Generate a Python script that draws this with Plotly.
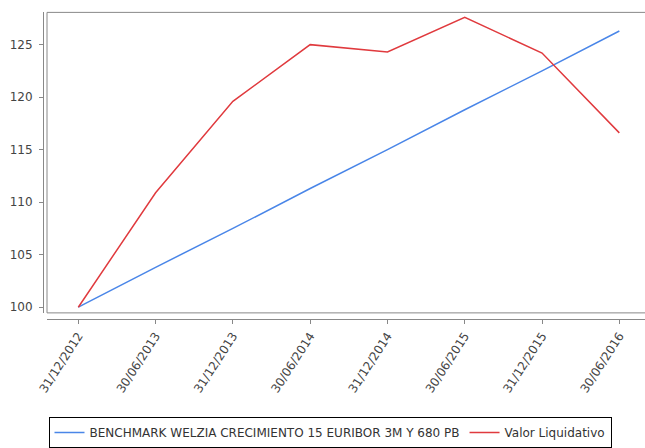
import plotly.graph_objects as go

dates = ["31/12/2012", "30/06/2013", "31/12/2013", "30/06/2014",
         "31/12/2014", "30/06/2015", "31/12/2015", "30/06/2016"]
benchmark = [100.0, 103.8, 107.5, 111.3, 115.0, 118.8, 122.5, 126.3]
valor_liquidativo = [100.0, 110.9, 119.6, 125.0, 124.3, 127.6, 124.2, 116.6]
y_ticks = [100, 105, 110, 115, 120, 125]

W, H = 645, 448


def px(xp):
    return xp / W


def py(yp):
    return 1 - yp / H


x0, x1 = px(47), 1.0
y0, y1 = py(315.7), py(12.5)

idx = list(range(len(dates)))
FONT = "DejaVu Sans, Liberation Sans, Arial, sans-serif"

fig = go.Figure()
fig.add_trace(go.Scatter(x=idx, y=benchmark, mode="lines",
                         name="BENCHMARK WELZIA CRECIMIENTO 15 EURIBOR 3M Y 680 PB",
                         line=dict(color="#4a86e8", width=1.5)))
fig.add_trace(go.Scatter(x=idx, y=valor_liquidativo, mode="lines",
                         name="Valor Liquidativo",
                         line=dict(color="#e03a3e", width=1.5)))

fig.update_layout(
    width=W, height=H,
    margin=dict(l=0, r=0, t=0, b=0),
    paper_bgcolor="white", plot_bgcolor="white",
    font=dict(family=FONT, size=12, color="#444"),
    xaxis=dict(domain=[x0, x1], anchor="free", position=py(322),
               range=[-0.405, 7.332], tickmode="array", tickvals=idx, ticktext=dates,
               tickangle=-57, showgrid=False, zeroline=False,
               showline=True, linecolor="#888", linewidth=1,
               ticks="outside", ticklen=4, tickcolor="#888",
               automargin=False, tickfont=dict(family=FONT, size=12, color="#444")),
    yaxis=dict(domain=[y0, y1], anchor="free", position=px(43),
               range=[99.46, 128.07], tickmode="array", tickvals=y_ticks,
               showgrid=False, zeroline=False,
               showline=True, linecolor="#888", linewidth=1,
               ticks="outside", ticklen=4, tickcolor="#888", ticklabelstandoff=4,
               automargin=False, tickfont=dict(family=FONT, size=12, color="#444")),
    legend=dict(orientation="h", x=px(330), xanchor="center", y=py(421), yanchor="top",
                bordercolor="#000", borderwidth=1, bgcolor="white",
                font=dict(family=FONT, size=12, color="#333"), itemwidth=30,
                tracegroupgap=0),
    showlegend=True,
    shapes=[dict(type="rect", xref="paper", yref="paper",
                 x0=x0, x1=1.02, y0=y0, y1=y1,
                 line=dict(color="#888", width=1), layer="below")],
)

fig.write_html(
    "out.html",
    config={"displayModeBar": False},
    post_script="document.body.style.margin='0';"
                "document.documentElement.style.overflow='hidden';"
                "document.body.style.overflow='hidden';",
)
